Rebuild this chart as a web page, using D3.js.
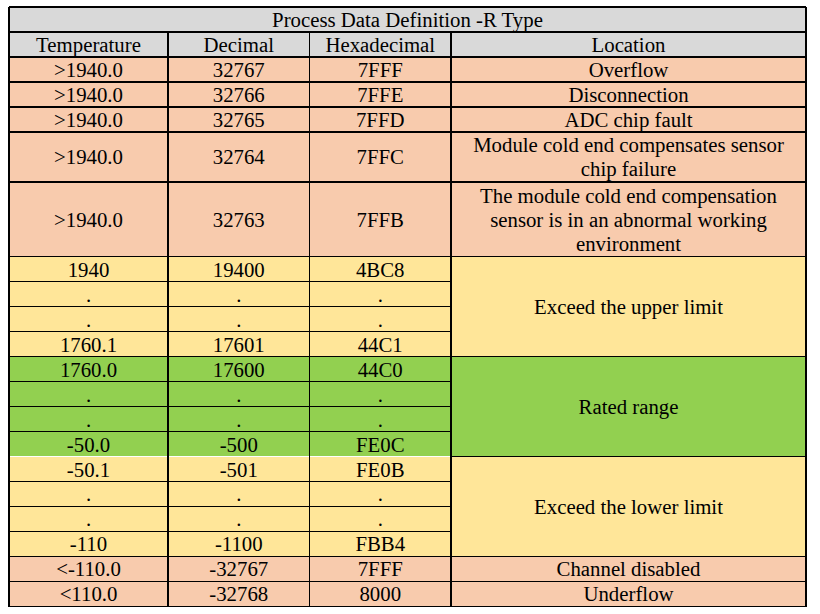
<!DOCTYPE html>
<html><head><meta charset="utf-8">
<script src="https://cdn.jsdelivr.net/npm/d3@7/dist/d3.min.js"></script>
<style>html,body{margin:0;padding:0;background:#fff;}svg{display:block;}</style>
</head><body>
<svg id="c" width="820" height="614"></svg>
<script>
const title = "Process Data Definition -R Type";
const headers = ["Temperature","Decimal","Hexadecimal","Location"];
const temperatures = [">1940.0",">1940.0",">1940.0",">1940.0",">1940.0","1940",".",".","1760.1","1760.0",".",".","-50.0","-50.1",".",".","-110","<-110.0","<110.0"];
const decimals = ["32767","32766","32765","32764","32763","19400",".",".","17601","17600",".",".","-500","-501",".",".","-1100","-32767","-32768"];
const hexes = ["7FFF","7FFE","7FFD","7FFC","7FFB","4BC8",".",".","44C1","44C0",".",".","FE0C","FE0B",".",".","FBB4","7FFF","8000"];
const rowUnits = [1,1,1,2,3,1,1,1,1,1,1,1,1,1,1,1,1,1,1];
const rowGroup = ["fault","fault","fault","fault","fault","upper","upper","upper","upper","rated","rated","rated","rated","lower","lower","lower","lower","fault","fault"];
// location cells: [text lines, first row, row count]
const locations = [
  [["Overflow"],0,1],
  [["Disconnection"],1,1],
  [["ADC chip fault"],2,1],
  [["Module cold end compensates sensor","chip failure"],3,1],
  [["The module cold end compensation","sensor is in an abnormal working","environment"],4,1],
  [["Exceed the upper limit"],5,4],
  [["Rated range"],9,4],
  [["Exceed the lower limit"],13,4],
  [["Channel disabled"],17,1],
  [["Underflow"],18,1]
];
const colours = {header:"#D9D9D9", fault:"#F8CBAD", upper:"#FFE699", rated:"#92D050", lower:"#FFE699"};

const svg = d3.select("#c");
const font = "'Liberation Serif','Times New Roman',serif";
const fs = 20.8;
const colEdges = [9,168,309.5,451,806];
const totalUnits = 2 + d3.sum(rowUnits);
const y = d3.scaleLinear().domain([0,totalUnits]).range([7,606.5]);
const starts = [];
let acc = 2;
rowUnits.forEach(u=>{starts.push(acc); acc+=u;});

function txt(xc, lines, y0, y1){
  const mid = (y0+y1)/2;
  const lh = 23.8;
  const n = lines.length;
  lines.forEach((l,i)=>{
    svg.append("text").attr("x",xc).attr("y", mid + (i-(n-1)/2)*lh + 7.4)
      .attr("text-anchor","middle").attr("font-family",font).attr("font-size",fs)
      .attr("fill","#000").text(l);
  });
}
const L = colEdges[0], R = colEdges[4];
// title & header
svg.append("rect").attr("x",L).attr("y",y(0)).attr("width",R-L).attr("height",y(2)-y(0)).attr("fill",colours.header);
txt((L+R)/2,[title],y(0),y(1));
headers.forEach((h,i)=>txt((colEdges[i]+colEdges[i+1])/2,[h],y(1),y(2)));
// row fills
rowUnits.forEach((u,i)=>{
  svg.append("rect").attr("x",L).attr("y",y(starts[i])).attr("width",colEdges[3]-L)
    .attr("height",y(starts[i]+u)-y(starts[i])).attr("fill",colours[rowGroup[i]]);
});
locations.forEach(([lines,r,n])=>{
  const y0=y(starts[r]), y1=y(starts[r+n-1]+rowUnits[r+n-1]);
  svg.append("rect").attr("x",colEdges[3]).attr("y",y0).attr("width",R-colEdges[3]).attr("height",y1-y0).attr("fill",colours[rowGroup[r]]);
});
// text
const cols=[temperatures,decimals,hexes];
cols.forEach((arr,c)=>arr.forEach((v,i)=>txt((colEdges[c]+colEdges[c+1])/2,[v],y(starts[i]),y(starts[i]+rowUnits[i]))));
locations.forEach(([lines,r,n])=>txt((colEdges[3]+R)/2,lines,y(starts[r]),y(starts[r+n-1]+rowUnits[r+n-1])));

// lines
const g = svg.append("g").attr("stroke","#000").attr("stroke-width",1.4).attr("shape-rendering","crispEdges");
function hl(x0,x1,yy,col){g.append("line").attr("x1",x0).attr("x2",x1).attr("y1",yy).attr("y2",yy).attr("stroke",col||"#000");}
function vl(xx,y0,y1){g.append("line").attr("x1",xx).attr("x2",xx).attr("y1",y0).attr("y2",y1);}
hl(L,R,y(0)); hl(L,R,y(1)); hl(L,R,y(2));
rowUnits.forEach((u,i)=>{
  const yy=y(starts[i]+u);
  hl(L,colEdges[3],yy, i===12 ? "#fff" : null);
});
locations.forEach(([lines,r,n])=>hl(colEdges[3],R,y(starts[r+n-1]+rowUnits[r+n-1])));
vl(L,y(0),y(totalUnits)); vl(R,y(0),y(totalUnits));
[1,2,3].forEach(c=>vl(colEdges[c],y(1),y(totalUnits)));
hl(L,colEdges[3],y(totalUnits));
</script>
</body></html>
